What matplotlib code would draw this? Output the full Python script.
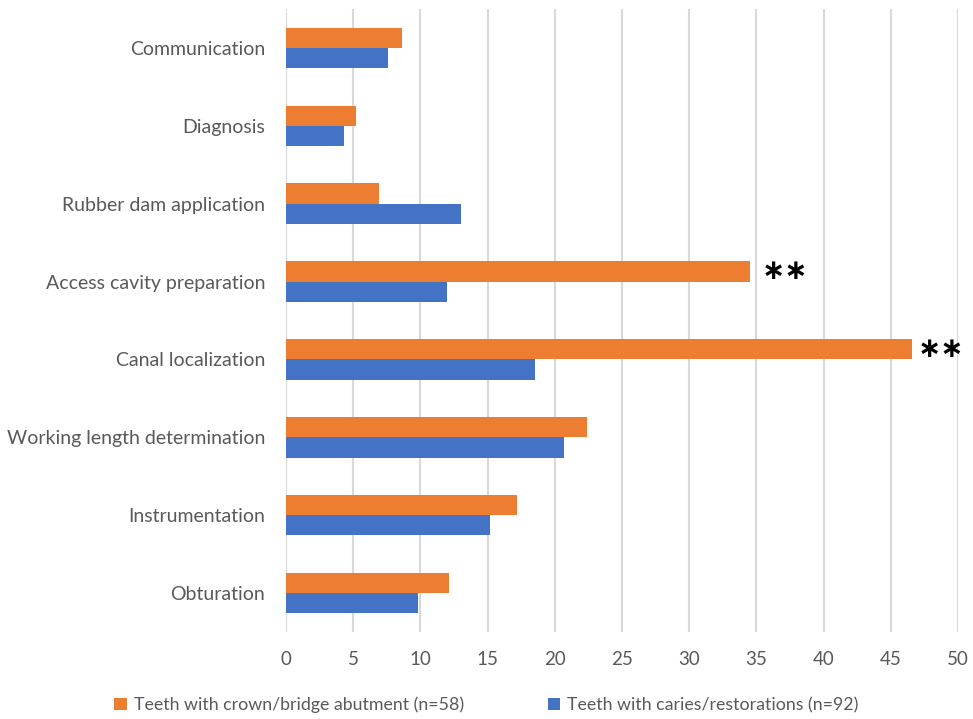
import matplotlib.pyplot as plt
import numpy as np

plt.rcParams['font.family'] = ['Lato', 'DejaVu Sans']

# Percentages of each group reporting difficulty at each step
steps = ["Communication", "Diagnosis", "Rubber dam application",
         "Access cavity preparation", "Canal localization",
         "Working length determination", "Instrumentation", "Obturation"]
crown_bridge = [8.6, 5.2, 6.9, 34.5, 46.6, 22.4, 17.2, 12.1]
caries_resto = [7.6, 4.3, 13.0, 12.0, 18.5, 20.7, 15.2, 9.8]
labels = ["Teeth with crown/bridge abutment (n=58)",
          "Teeth with caries/restorations (n=92)"]
# significance markers (step index -> text)
signif = {3: "\u2217\u2217", 4: "\u2217\u2217"}

orange = "#ED7D31"
blue = "#4472C4"
gray = "#595959"

fig = plt.figure(figsize=(9.73, 7.19), dpi=100)
ax = fig.add_axes([286 / 973, 1 - 632 / 719, 672 / 973, 623 / 719])

y = np.arange(len(steps))
h = 0.26
ax.barh(y - h / 2, crown_bridge, height=h, color=orange, label=labels[0], zorder=3)
ax.barh(y + h / 2, caries_resto, height=h, color=blue, label=labels[1], zorder=3)

# asterisks for significant differences
offsets = {3: 0.9, 4: 0.4}
for i, s in signif.items():
    ax.text(crown_bridge[i] + offsets[i], y[i] - h / 2, s,
            fontsize=20, fontweight='bold', ha='left', va='center',
            family='DejaVu Sans')

ax.set_xlim(0, 50)
ax.set_ylim(len(steps) - 0.5, -0.5)
ax.set_xticks(np.arange(0, 51, 5))
ax.set_yticks(y)
ax.set_yticklabels(steps)
ax.grid(axis='x', color='#D9D9D9', linewidth=1.5, zorder=0)
for sp in ax.spines.values():
    sp.set_visible(False)
ax.tick_params(axis='both', length=0, colors=gray)
ax.tick_params(axis='x', pad=14, labelsize=13.5)
ax.tick_params(axis='y', pad=15, labelsize=14)

fig.legend(loc='center', bbox_to_anchor=(0.5, 1 - 705 / 719), ncol=2,
           frameon=False, fontsize=12.8, handlelength=0.7, handleheight=0.7,
           columnspacing=4.7, handletextpad=0.4, labelcolor=gray)

fig.savefig("out.png", dpi=100)
